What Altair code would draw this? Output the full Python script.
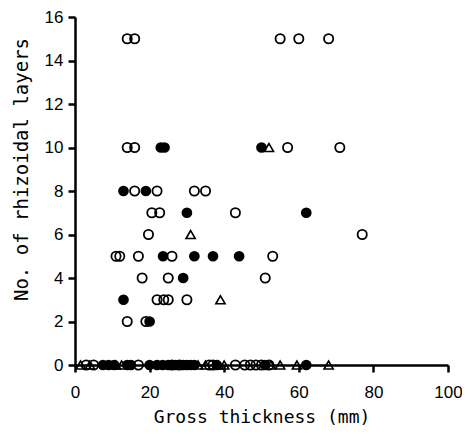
import altair as alt
import pandas as pd

# Open circles
open_x = [14, 16, 55, 60, 68,
          14, 16, 57, 71,
          16, 22, 32, 35,
          20.6, 22.7, 43,
          19.7, 77,
          11, 12, 17, 26, 53,
          18, 25, 51,
          22, 23.8, 25, 30,
          14, 19,
          3, 5, 17, 26, 28, 36, 37, 43, 45.5, 47, 48.5, 50, 52]
open_y = [15, 15, 15, 15, 15,
          10, 10, 10, 10,
          8, 8, 8, 8,
          7, 7, 7,
          6, 6,
          5, 5, 5, 5, 5,
          4, 4, 4,
          3, 3, 3, 3,
          2, 2,
          0, 0, 0, 0, 0, 0, 0, 0, 0, 0, 0, 0, 0]

# Filled circles
fill_x = [23, 24, 50,
          13, 19,
          30, 62,
          23.6, 32, 37, 44,
          29,
          13,
          20,
          7.5, 9, 10.5, 14, 15, 20, 22, 23.5, 25, 27, 29, 30, 31, 32, 38, 51, 62]
fill_y = [10, 10, 10,
          8, 8,
          7, 7,
          5, 5, 5, 5,
          4,
          3,
          2,
          0, 0, 0, 0, 0, 0, 0, 0, 0, 0, 0, 0, 0, 0, 0, 0, 0]

# Open triangles
tri_x = [52, 31, 39, 1.5, 4, 11, 12.5, 33, 35, 38.5, 40, 52.5, 55, 59.5, 68]
tri_y = [10, 6, 3, 0, 0, 0, 0, 0, 0, 0, 0, 0, 0, 0, 0]

x_ticks = [0, 20, 40, 60, 80, 100]
y_ticks = [0, 2, 4, 6, 8, 10, 12, 14, 16]

df = pd.concat([
    pd.DataFrame({"x": open_x, "y": open_y, "g": "open"}),
    pd.DataFrame({"x": fill_x, "y": fill_y, "g": "filled"}),
    pd.DataFrame({"x": tri_x, "y": tri_y, "g": "tri"}),
])

lab_font = "Liberation Sans"
title_font = "DejaVu Sans Mono"

xenc = alt.X("x:Q", scale=alt.Scale(domain=[0, 100], nice=False),
             axis=alt.Axis(title="Gross thickness (mm)", values=x_ticks, grid=False,
                           domainColor="black", domainWidth=2.5, tickColor="black",
                           tickWidth=2.5, tickSize=7, labelFontSize=17, labelFont=lab_font,
                           labelColor="black", labelPadding=12, titleFontSize=18,
                           titleFont=title_font, titleFontWeight="normal", titleColor="black",
                           titlePadding=8, labelFlush=False))
yenc = alt.Y("y:Q", scale=alt.Scale(domain=[0, 16], nice=False),
             axis=alt.Axis(title="No. of rhizoidal layers", values=y_ticks, grid=False,
                           domainColor="black", domainWidth=2.5, tickColor="black",
                           tickWidth=2.5, tickSize=7, labelFontSize=17, labelFont=lab_font,
                           labelColor="black", labelPadding=5, titleFontSize=19,
                           titleFont=title_font, titleFontWeight="normal", titleColor="black",
                           titlePadding=13, titleY=152, labelFlush=False))

base = alt.Chart(df)

opens = base.transform_filter(alt.datum.g == "open").mark_point(
    shape="circle", filled=False, color="black", size=85, strokeWidth=1.8, opacity=1
).encode(x=xenc, y=yenc)

fills = base.transform_filter(alt.datum.g == "filled").mark_point(
    shape="circle", filled=True, color="black", size=115, opacity=1
).encode(x=xenc, y=yenc)

tris = base.transform_filter(alt.datum.g == "tri").mark_point(
    shape="triangle-up", filled=False, color="black", size=85, strokeWidth=1.6, opacity=1
).encode(x=xenc, y=yenc)

chart = alt.layer(opens, fills, tris).properties(
    width=373, height=348,
    autosize=alt.AutoSizeParams(type="none"),
    padding={"left": 67, "top": 9, "right": 14, "bottom": 64},
).configure_view(stroke=None)

chart.save("out.html", embed_options={"renderer": "svg", "actions": False})
